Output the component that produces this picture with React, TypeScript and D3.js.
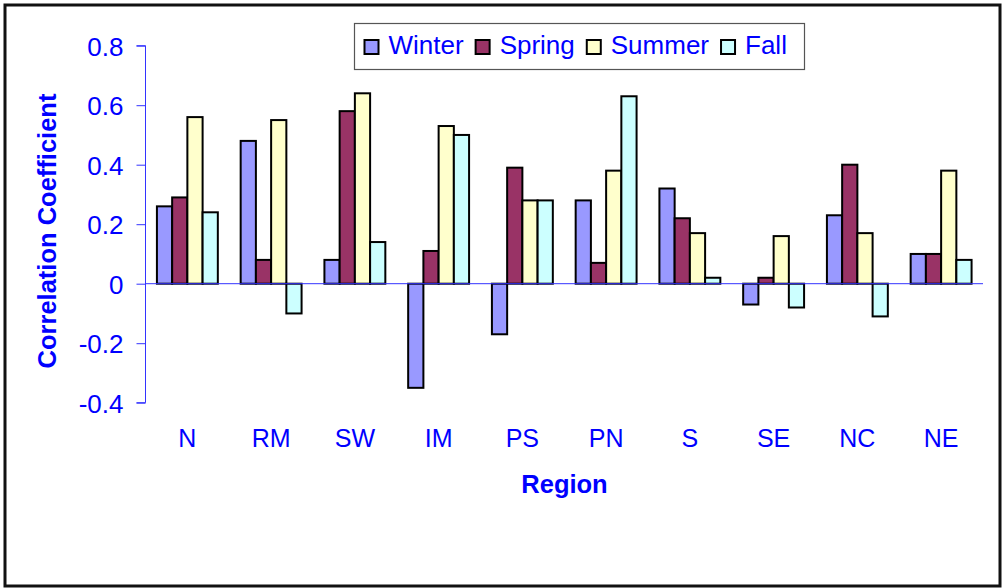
import React, { useEffect, useRef } from "react";
import * as d3 from "d3";

// regions along the x axis
const regions = ["N", "RM", "SW", "IM", "PS", "PN", "S", "SE", "NC", "NE"];
const seasons = ["Winter", "Spring", "Summer", "Fall"];

// correlation coefficient per region, one array per season
const winter = [0.26, 0.48, 0.08, -0.35, -0.17, 0.28, 0.32, -0.07, 0.23, 0.1];
const spring = [0.29, 0.08, 0.58, 0.11, 0.39, 0.07, 0.22, 0.02, 0.4, 0.1];
const summer = [0.56, 0.55, 0.64, 0.53, 0.28, 0.38, 0.17, 0.16, 0.17, 0.38];
const fall = [0.24, -0.1, 0.14, 0.5, 0.28, 0.63, 0.02, -0.08, -0.11, 0.08];

const yTicks = [-0.4, -0.2, 0, 0.2, 0.4, 0.6, 0.8];

const colors = ["#9999ff", "#993366", "#ffffcc", "#ccffff"];
const BLUE = "#0000ff";
const FONT = "'Liberation Sans', Arial, sans-serif";

const App = () => {
  const svgRef = useRef<SVGSVGElement | null>(null);

  useEffect(() => {
    const seriesValues = [winter, spring, summer, fall];
    const svg = d3.select(svgRef.current);
    svg.selectAll("*").remove();

    const W = 1002;
    const H = 588;
    svg.attr("width", W).attr("height", H);

    // outer frame
    svg
      .append("rect")
      .attr("x", 5)
      .attr("y", 5)
      .attr("width", 995)
      .attr("height", 581)
      .attr("fill", "white")
      .attr("stroke", "#111")
      .attr("stroke-width", 3);

    // scales (Excel-like gap width 150%)
    const x = d3
      .scaleBand()
      .domain(regions)
      .range([145.5, 983])
      .paddingInner(1.5 / 5.5)
      .paddingOuter(0.75 / 5.5);

    const xs = d3.scaleBand().domain(seasons).range([0, x.bandwidth()]);

    const y = d3.scaleLinear().domain([-0.4, 0.8]).range([402.7, 45.7]);

    // bars
    const data = regions.flatMap((r, i) =>
      seasons.map((s, j) => ({ region: r, season: s, idx: j, value: seriesValues[j][i] }))
    );

    svg
      .append("g")
      .selectAll("rect")
      .data(data)
      .enter()
      .append("rect")
      .attr("x", (d) => (x(d.region) as number) + (xs(d.season) as number))
      .attr("y", (d) => y(Math.max(0, d.value)))
      .attr("width", xs.bandwidth())
      .attr("height", (d) => Math.abs(y(d.value) - y(0)))
      .attr("fill", (d) => colors[d.idx])
      .attr("stroke", "#000")
      .attr("stroke-width", 2);

    // zero line
    svg
      .append("line")
      .attr("x1", 145.5)
      .attr("x2", 983)
      .attr("y1", y(0))
      .attr("y2", y(0))
      .attr("stroke", "#3333ff")
      .attr("stroke-width", 1);

    // y axis
    const yAxis = svg
      .append("g")
      .attr("transform", "translate(145.5,0)")
      .call(
        d3
          .axisLeft(y)
          .tickValues(yTicks)
          .tickSize(9)
          .tickPadding(13)
          .tickFormat((d) => String(d))
      );
    yAxis.selectAll("path, line").attr("stroke", "#3333ff");
    yAxis.select(".domain").attr("d", `M-9,${y(0.8)}H0V${y(-0.4)}H-9`);
    yAxis
      .selectAll("text")
      .attr("fill", BLUE)
      .attr("font-family", FONT)
      .attr("font-size", 26)
      .attr("dy", "0.36em");

    // x category labels
    svg
      .append("g")
      .selectAll("text")
      .data(regions)
      .enter()
      .append("text")
      .attr("x", (d) => (x(d) as number) + x.bandwidth() / 2)
      .attr("y", 447)
      .attr("text-anchor", "middle")
      .attr("fill", BLUE)
      .attr("font-family", FONT)
      .attr("font-size", 25)
      .text((d) => d);

    // axis titles
    svg
      .append("text")
      .attr("x", 564.5)
      .attr("y", 492.5)
      .attr("text-anchor", "middle")
      .attr("fill", BLUE)
      .attr("font-family", FONT)
      .attr("font-weight", "bold")
      .attr("font-size", 25.5)
      .text("Region");

    svg
      .append("text")
      .attr("transform", "translate(56,231) rotate(-90)")
      .attr("text-anchor", "middle")
      .attr("fill", BLUE)
      .attr("font-family", FONT)
      .attr("font-weight", "bold")
      .attr("font-size", 25.5)
      .text("Correlation Coefficient");

    // legend
    const legend = svg.append("g");
    legend
      .append("rect")
      .attr("x", 354.5)
      .attr("y", 23.5)
      .attr("width", 450)
      .attr("height", 46)
      .attr("fill", "white")
      .attr("stroke", "#555")
      .attr("stroke-width", 1.2);

    let lx = 364.5;
    seasons.forEach((s, j) => {
      legend
        .append("rect")
        .attr("x", lx)
        .attr("y", 40)
        .attr("width", 14)
        .attr("height", 14)
        .attr("fill", colors[j])
        .attr("stroke", "#000")
        .attr("stroke-width", 2);
      const t = legend
        .append("text")
        .attr("x", lx + 24)
        .attr("y", 53.5)
        .attr("fill", BLUE)
        .attr("font-family", FONT)
        .attr("font-size", 26)
        .text(s);
      const tw = (t.node() as SVGTextElement).getComputedTextLength();
      lx += 24 + tw + 12;
    });
  }, []);

  return (
    <svg
      ref={svgRef}
      style={{ position: "absolute", left: 0, top: 0, display: "block" }}
    ></svg>
  );
};

export default App;
